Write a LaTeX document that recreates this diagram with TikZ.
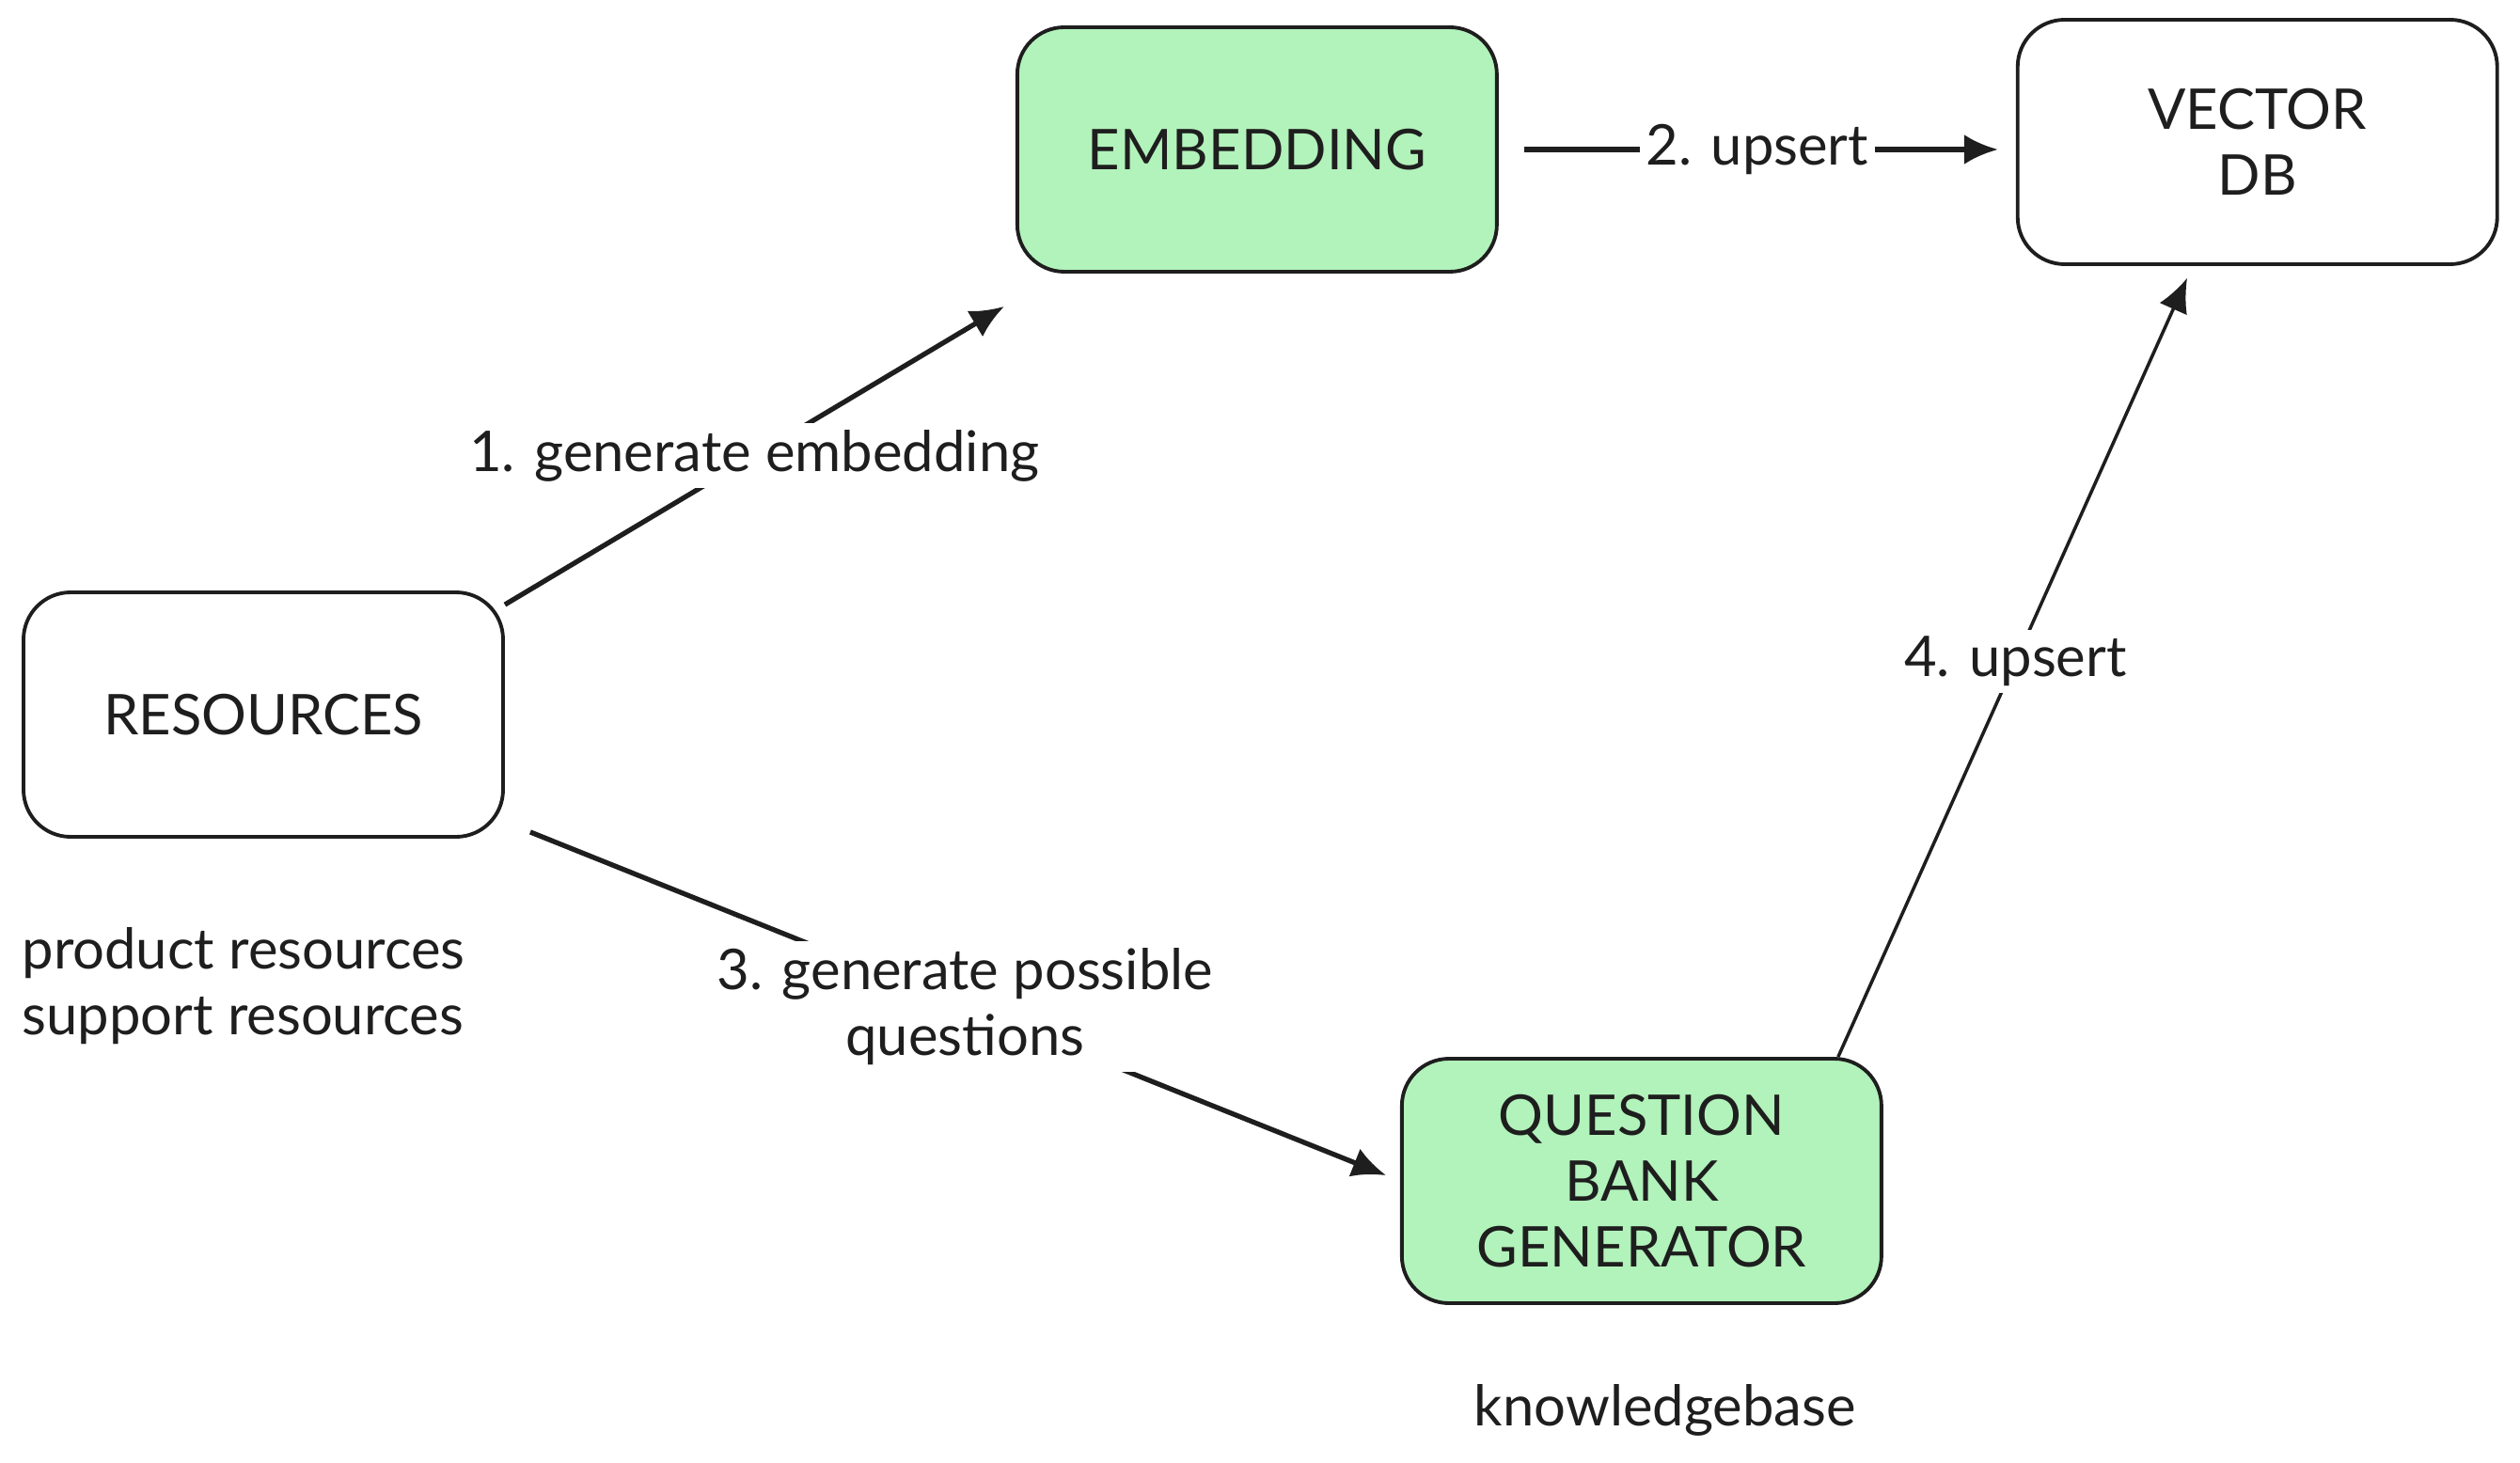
\documentclass[tikz,border=0pt]{standalone}
\usepackage{fontspec}
\setmainfont{Lato}
\usepackage{tikz}
\usetikzlibrary{positioning, arrows.meta}
\definecolor{ink}{HTML}{1E1E1E}
\definecolor{mint}{HTML}{B2F2BB}

\begin{document}
\begin{tikzpicture}[node distance=1.6cm,
    every node/.style={font=\fontsize{17}{20}\selectfont, text=ink},
    block/.style={draw=ink, line width=1.1pt, rounded corners=0.5cm, minimum width=5.1cm, minimum height=2.6cm, align=center},
    greenblock/.style={block, fill=mint},
    note/.style={align=left},
    flow/.style={draw=ink, line width=1.5pt, -{Latex[length=0.36cm, width=0.32cm]}},
    tag/.style={fill=white, inner sep=2pt, align=center}]
        \useasboundingbox (0,0) rectangle (26.8,15.55);
        \node[block] (res) at (2.8,7.95) {RESOURCES};
        \node[greenblock, right=5.43cm of res, yshift=6.01cm] (emb) {EMBEDDING};
        \node[block, right=5.5cm of emb, yshift=0.08cm] (vdb) {VECTOR\\DB};
        \node[greenblock, right=9.52cm of res, yshift=-4.96cm] (qbg) {QUESTION\\BANK\\GENERATOR};
        \node[note, anchor=west] (restext) at ([xshift=-0.12cm, yshift=-1.57cm]res.south west) {product resources\\support resources};
        \node[note] (qbgtext) at ([xshift=0.25cm, yshift=-1.12cm]qbg.south) {knowledgebase};
        \draw[flow] ([yshift=-0.15cm]res.north east) -- ([xshift=-0.12cm, yshift=-0.35cm]emb.south west) node[tag, midway] {1. generate embedding};
        \draw[flow, shorten <=0.27cm, shorten >=0.19cm] (emb.east) -- (emb.east -| vdb.west) node[tag, midway] {2. upsert};
        \draw[flow, shorten >=0.16cm] ([xshift=0.27cm, yshift=0.07cm]res.south east) -- (qbg.west) node[tag, midway] {3. generate possible\\questions};
        \draw[flow, line width=1pt, shorten >=0.14cm] ([xshift=-0.48cm]qbg.north east) -- ([xshift=-0.69cm]vdb.south) node[tag, midway] {4. upsert};
      \end{tikzpicture}
\end{document}
